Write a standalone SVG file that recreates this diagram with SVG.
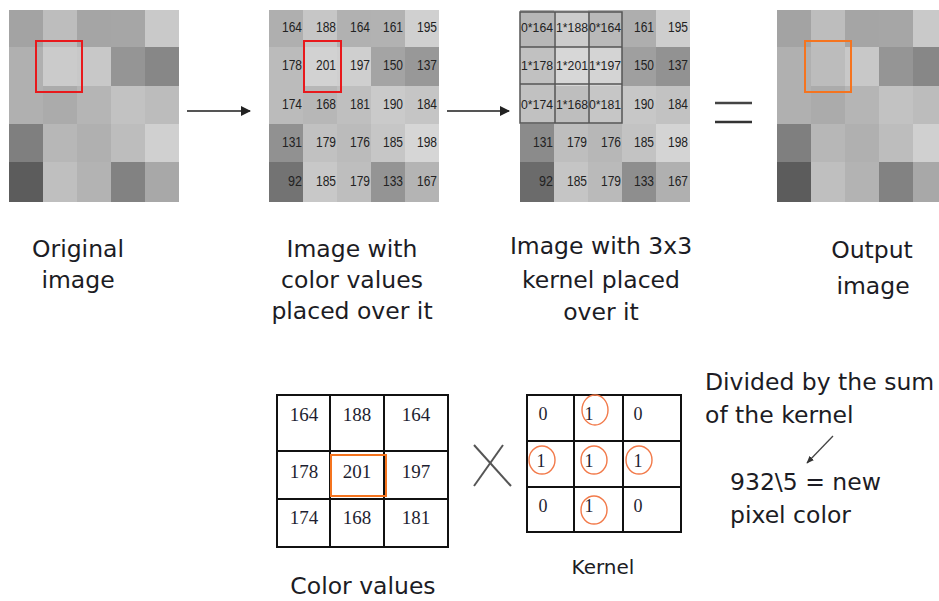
<svg xmlns="http://www.w3.org/2000/svg" xmlns:xlink="http://www.w3.org/1999/xlink" width="939" height="601" viewBox="0 0 939 601">
<style>
.lbl{font-family:"DejaVu Sans","Verdana",sans-serif;font-size:23.5px;fill:#1c1c24;text-anchor:middle}
.lbls{font-family:"DejaVu Sans","Verdana",sans-serif;font-size:23.5px;fill:#1c1c24}
.num{font-family:"Liberation Sans",Arial,sans-serif;font-size:14px;fill:#222;text-anchor:end}
.knum{font-family:"Liberation Sans",Arial,sans-serif;font-size:13px;fill:#222;text-anchor:middle}
.tnum{font-family:"Liberation Serif","Times New Roman",serif;font-size:19px;fill:#1e1e30;text-anchor:middle}
.grid{fill:#fff;stroke:#111;stroke-width:2}
.gl{stroke:#111;stroke-width:2}
.circ{fill:none;stroke:#f27a4a;stroke-width:1.4}
.conn{stroke:#555;stroke-width:2;fill:none}
</style>
<defs>
<marker id="ah" viewBox="0 0 10 10" refX="9" refY="5" markerWidth="5" markerHeight="5" orient="auto">
<path d="M0,0 L10,5 L0,10 z" fill="#222"/>
</marker>
<marker id="ah2" viewBox="0 0 10 10" refX="9" refY="5" markerWidth="6" markerHeight="6" orient="auto">
<path d="M0,1 L10,5 L0,9 z" fill="#333"/>
</marker>
<g id="pix">
<rect x="0" y="0" width="34" height="37" fill="#a3a3a3"/>
<rect x="34" y="0" width="34" height="37" fill="#bdbdbd"/>
<rect x="68" y="0" width="34" height="37" fill="#a5a5a5"/>
<rect x="102" y="0" width="34" height="37" fill="#a6a6a6"/>
<rect x="136" y="0" width="34" height="37" fill="#c9c9c9"/>
<rect x="0" y="37" width="34" height="39" fill="#b0b0b0"/>
<rect x="34" y="37" width="34" height="39" fill="#cbcbcb"/>
<rect x="68" y="37" width="34" height="39" fill="#c8c8c8"/>
<rect x="102" y="37" width="34" height="39" fill="#959595"/>
<rect x="136" y="37" width="34" height="39" fill="#878787"/>
<rect x="0" y="76" width="34" height="38" fill="#b0b0b0"/>
<rect x="34" y="76" width="34" height="38" fill="#ababab"/>
<rect x="68" y="76" width="34" height="38" fill="#b5b5b5"/>
<rect x="102" y="76" width="34" height="38" fill="#c2c2c2"/>
<rect x="136" y="76" width="34" height="38" fill="#bcbcbc"/>
<rect x="0" y="114" width="34" height="38" fill="#7f7f7f"/>
<rect x="34" y="114" width="34" height="38" fill="#b7b7b7"/>
<rect x="68" y="114" width="34" height="38" fill="#b0b0b0"/>
<rect x="102" y="114" width="34" height="38" fill="#bdbdbd"/>
<rect x="136" y="114" width="34" height="38" fill="#d0d0d0"/>
<rect x="0" y="152" width="34" height="40" fill="#5c5c5c"/>
<rect x="34" y="152" width="34" height="40" fill="#bfbfbf"/>
<rect x="68" y="152" width="34" height="40" fill="#b3b3b3"/>
<rect x="102" y="152" width="34" height="40" fill="#828282"/>
<rect x="136" y="152" width="34" height="40" fill="#a8a8a8"/>
</g>
</defs>

<g id="original">
<use href="#pix" xlink:href="#pix" x="9" y="10"/>
<rect x="36" y="41" width="46" height="51" fill="none" stroke="#e8191c" stroke-width="2"/>
<text class="lbl" x="78" y="257">Original</text>
<text class="lbl" x="78" y="288">image</text>
</g>

<g id="values">
<use href="#pix" xlink:href="#pix" x="269" y="10" opacity="0.9"/>
<rect x="269" y="10" width="170" height="192" fill="#fff" opacity="0.06"/>
<text class="num" x="302" y="32" textLength="20" lengthAdjust="spacingAndGlyphs">164</text>
<text class="num" x="336" y="32" textLength="20" lengthAdjust="spacingAndGlyphs">188</text>
<text class="num" x="370" y="32" textLength="20" lengthAdjust="spacingAndGlyphs">164</text>
<text class="num" x="403" y="32" textLength="20" lengthAdjust="spacingAndGlyphs">161</text>
<text class="num" x="437" y="32" textLength="20" lengthAdjust="spacingAndGlyphs">195</text>
<text class="num" x="302" y="70" textLength="20" lengthAdjust="spacingAndGlyphs">178</text>
<text class="num" x="336" y="70" textLength="20" lengthAdjust="spacingAndGlyphs">201</text>
<text class="num" x="370" y="70" textLength="20" lengthAdjust="spacingAndGlyphs">197</text>
<text class="num" x="403" y="70" textLength="20" lengthAdjust="spacingAndGlyphs">150</text>
<text class="num" x="437" y="70" textLength="20" lengthAdjust="spacingAndGlyphs">137</text>
<text class="num" x="302" y="109" textLength="20" lengthAdjust="spacingAndGlyphs">174</text>
<text class="num" x="336" y="109" textLength="20" lengthAdjust="spacingAndGlyphs">168</text>
<text class="num" x="370" y="109" textLength="20" lengthAdjust="spacingAndGlyphs">181</text>
<text class="num" x="403" y="109" textLength="20" lengthAdjust="spacingAndGlyphs">190</text>
<text class="num" x="437" y="109" textLength="20" lengthAdjust="spacingAndGlyphs">184</text>
<text class="num" x="302" y="147" textLength="20" lengthAdjust="spacingAndGlyphs">131</text>
<text class="num" x="336" y="147" textLength="20" lengthAdjust="spacingAndGlyphs">179</text>
<text class="num" x="370" y="147" textLength="20" lengthAdjust="spacingAndGlyphs">176</text>
<text class="num" x="403" y="147" textLength="20" lengthAdjust="spacingAndGlyphs">185</text>
<text class="num" x="437" y="147" textLength="20" lengthAdjust="spacingAndGlyphs">198</text>
<text class="num" x="302" y="186" textLength="14" lengthAdjust="spacingAndGlyphs">92</text>
<text class="num" x="336" y="186" textLength="20" lengthAdjust="spacingAndGlyphs">185</text>
<text class="num" x="370" y="186" textLength="20" lengthAdjust="spacingAndGlyphs">179</text>
<text class="num" x="403" y="186" textLength="20" lengthAdjust="spacingAndGlyphs">133</text>
<text class="num" x="437" y="186" textLength="20" lengthAdjust="spacingAndGlyphs">167</text>
<rect x="304" y="41" width="37" height="51" fill="none" stroke="#e8191c" stroke-width="2"/>
<text class="lbl" x="352" y="257">Image with</text>
<text class="lbl" x="352" y="288">color values</text>
<text class="lbl" x="352" y="319">placed over it</text>
</g>

<g id="kernel-over">
<use href="#pix" xlink:href="#pix" x="520" y="10" opacity="0.9"/>
<rect x="520" y="12" width="102" height="111" fill="#fff" opacity="0.15"/>
<rect x="520" y="12" width="102" height="111" fill="none" stroke="#555" stroke-width="1.5"/>
<line x1="555" y1="12" x2="555" y2="123" stroke="#555" stroke-width="1.5"/>
<line x1="589" y1="12" x2="589" y2="123" stroke="#555" stroke-width="1.5"/>
<line x1="520" y1="47" x2="622" y2="47" stroke="#555" stroke-width="1.5"/>
<line x1="520" y1="84" x2="622" y2="84" stroke="#555" stroke-width="1.5"/>
<text class="knum" x="537" y="32" textLength="32" lengthAdjust="spacingAndGlyphs">0*164</text>
<text class="knum" x="572" y="32" textLength="32" lengthAdjust="spacingAndGlyphs">1*188</text>
<text class="knum" x="605" y="32" textLength="32" lengthAdjust="spacingAndGlyphs">0*164</text>
<text class="knum" x="537" y="70" textLength="32" lengthAdjust="spacingAndGlyphs">1*178</text>
<text class="knum" x="572" y="70" textLength="32" lengthAdjust="spacingAndGlyphs">1*201</text>
<text class="knum" x="605" y="70" textLength="32" lengthAdjust="spacingAndGlyphs">1*197</text>
<text class="knum" x="537" y="109" textLength="32" lengthAdjust="spacingAndGlyphs">0*174</text>
<text class="knum" x="572" y="109" textLength="32" lengthAdjust="spacingAndGlyphs">1*168</text>
<text class="knum" x="605" y="109" textLength="32" lengthAdjust="spacingAndGlyphs">0*181</text>
<text class="num" x="654" y="32" textLength="20" lengthAdjust="spacingAndGlyphs">161</text>
<text class="num" x="688" y="32" textLength="20" lengthAdjust="spacingAndGlyphs">195</text>
<text class="num" x="654" y="70" textLength="20" lengthAdjust="spacingAndGlyphs">150</text>
<text class="num" x="688" y="70" textLength="20" lengthAdjust="spacingAndGlyphs">137</text>
<text class="num" x="654" y="109" textLength="20" lengthAdjust="spacingAndGlyphs">190</text>
<text class="num" x="688" y="109" textLength="20" lengthAdjust="spacingAndGlyphs">184</text>
<text class="num" x="553" y="147" textLength="20" lengthAdjust="spacingAndGlyphs">131</text>
<text class="num" x="587" y="147" textLength="20" lengthAdjust="spacingAndGlyphs">179</text>
<text class="num" x="621" y="147" textLength="20" lengthAdjust="spacingAndGlyphs">176</text>
<text class="num" x="654" y="147" textLength="20" lengthAdjust="spacingAndGlyphs">185</text>
<text class="num" x="688" y="147" textLength="20" lengthAdjust="spacingAndGlyphs">198</text>
<text class="num" x="553" y="186" textLength="14" lengthAdjust="spacingAndGlyphs">92</text>
<text class="num" x="587" y="186" textLength="20" lengthAdjust="spacingAndGlyphs">185</text>
<text class="num" x="621" y="186" textLength="20" lengthAdjust="spacingAndGlyphs">179</text>
<text class="num" x="654" y="186" textLength="20" lengthAdjust="spacingAndGlyphs">133</text>
<text class="num" x="688" y="186" textLength="20" lengthAdjust="spacingAndGlyphs">167</text>
<text class="lbl" x="601" y="254">Image with 3x3</text>
<text class="lbl" x="601" y="288">kernel placed</text>
<text class="lbl" x="601" y="320">over it</text>
</g>

<g id="output">
<use href="#pix" xlink:href="#pix" x="777" y="10"/>
<rect x="811" y="47" width="34" height="39" fill="#bcbcbc"/>
<rect x="805" y="41" width="46" height="51" fill="none" stroke="#f5741f" stroke-width="2"/>
<text class="lbl" x="872" y="258">Output</text>
<text class="lbl" x="873" y="294">image</text>
</g>

<g id="color-values">
<rect class="grid" x="277" y="395" width="171" height="152"/>
<line class="gl" x1="330" y1="395" x2="330" y2="547"/>
<line class="gl" x1="384" y1="395" x2="384" y2="547"/>
<line class="gl" x1="277" y1="451" x2="448" y2="451"/>
<line class="gl" x1="277" y1="499" x2="448" y2="499"/>
<text class="tnum" x="304" y="421">164</text>
<text class="tnum" x="357" y="421">188</text>
<text class="tnum" x="416" y="421">164</text>
<text class="tnum" x="304" y="478">178</text>
<text class="tnum" x="357" y="478">201</text>
<text class="tnum" x="416" y="478">197</text>
<text class="tnum" x="304" y="524">174</text>
<text class="tnum" x="357" y="524">168</text>
<text class="tnum" x="416" y="524">181</text>
<rect x="331" y="455" width="55" height="41" fill="none" stroke="#f5741f" stroke-width="2"/>
<text class="lbl" x="363" y="594">Color values</text>
</g>

<g id="times">
<line x1="474" y1="445" x2="511" y2="486" stroke="#555" stroke-width="2"/>
<line x1="503" y1="445" x2="474" y2="486" stroke="#555" stroke-width="2"/>
</g>

<g id="kernel">
<rect class="grid" x="527" y="395" width="154" height="137"/>
<line class="gl" x1="574" y1="395" x2="574" y2="532"/>
<line class="gl" x1="623" y1="395" x2="623" y2="532"/>
<line class="gl" x1="527" y1="441" x2="681" y2="441"/>
<line class="gl" x1="527" y1="487" x2="681" y2="487"/>
<text class="tnum" x="543" y="420" style="font-size:18px">0</text>
<text class="tnum" x="589" y="420" style="font-size:18px">1</text>
<text class="tnum" x="638" y="420" style="font-size:18px">0</text>
<text class="tnum" x="541" y="467" style="font-size:18px">1</text>
<text class="tnum" x="589" y="467" style="font-size:18px">1</text>
<text class="tnum" x="638" y="467" style="font-size:18px">1</text>
<text class="tnum" x="543" y="512" style="font-size:18px">0</text>
<text class="tnum" x="589" y="512" style="font-size:18px">1</text>
<text class="tnum" x="638" y="512" style="font-size:18px">0</text>
<ellipse class="circ" cx="595" cy="410" rx="13" ry="15"/>
<ellipse class="circ" cx="542" cy="460" rx="13" ry="14"/>
<ellipse class="circ" cx="594" cy="460" rx="13" ry="14"/>
<ellipse class="circ" cx="639" cy="460" rx="13" ry="14"/>
<ellipse class="circ" cx="594" cy="510" rx="13" ry="14"/>
<text class="lbl" x="603" y="574" style="font-size:20px">Kernel</text>
</g>

<g id="note">
<text class="lbls" x="705" y="390">Divided by the sum</text>
<text class="lbls" x="705" y="423">of the kernel</text>
<text class="lbls" x="730" y="490">932\5 = new</text>
<text class="lbls" x="730" y="523">pixel color</text>
</g>

<g id="connectors">
<line class="conn" x1="187" y1="111" x2="250" y2="111" marker-end="url(#ah)"/>
<line class="conn" x1="447" y1="111" x2="509" y2="111" marker-end="url(#ah)"/>
<line x1="715" y1="103" x2="752" y2="103" stroke="#444" stroke-width="2.5"/>
<line x1="715" y1="122" x2="752" y2="122" stroke="#333" stroke-width="2.5"/>
<line x1="833" y1="436" x2="807" y2="463" stroke="#444" stroke-width="1.3" marker-end="url(#ah2)"/>
</g>
</svg>
